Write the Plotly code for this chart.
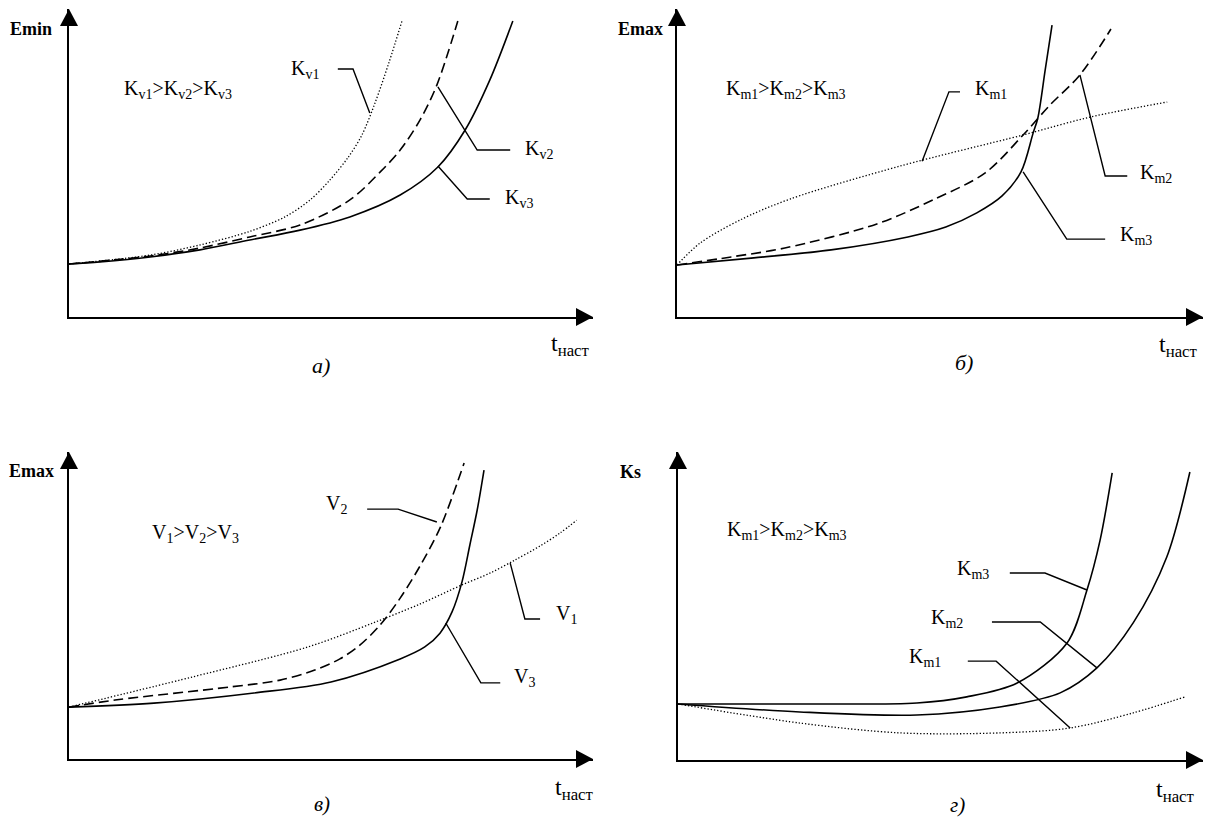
import plotly.graph_objects as go

# ---------------- data (schematic units: t and E/Ks from 0 to 10) ----------------
# Panel a) Emin(t)
a_kv1_t = [0, 1.55, 2.50, 3.45, 4.12, 4.60, 4.98, 5.33, 5.59, 5.84, 6.11, 6.36]
a_kv1_e = [1.72, 2.01, 2.34, 2.78, 3.25, 3.80, 4.45, 5.19, 5.91, 6.95, 8.28, 9.64]
a_kv2_t = [0, 1.55, 2.50, 3.45, 4.41, 5.36, 5.94, 6.32, 6.70, 7.02, 7.42]
a_kv2_e = [1.72, 1.98, 2.24, 2.60, 2.99, 3.80, 4.71, 5.42, 6.40, 7.53, 9.61]
a_kv3_t = [0, 0.59, 1.55, 2.50, 3.45, 4.41, 5.36, 6.32, 7.04, 7.56, 8.03, 8.47]
a_kv3_e = [1.72, 1.79, 1.95, 2.18, 2.50, 2.82, 3.25, 3.96, 4.87, 6.07, 7.69, 9.61]

# Panel б) Emax(t), Km
b_km1_t = [0, 0.44, 1.20, 2.15, 4.24, 6.58, 7.85, 9.32]
b_km1_e = [1.69, 2.40, 3.15, 3.83, 4.90, 5.91, 6.49, 6.98]
b_km2_t = [0, 1.03, 2.05, 3.80, 4.90, 5.86, 6.58, 7.09, 7.66, 8.25]
b_km2_e = [1.69, 1.95, 2.24, 3.02, 3.83, 4.68, 5.91, 6.88, 7.86, 9.35]
b_km3_t = [0, 1.46, 2.93, 4.39, 5.11, 5.70, 6.18, 6.54, 6.77, 6.86, 7.00, 7.13]
b_km3_e = [1.69, 1.92, 2.18, 2.60, 2.92, 3.38, 3.93, 4.71, 5.97, 6.46, 8.02, 9.48]

# Panel в) Emax(t), V
c_v1_t = [0, 2.35, 4.56, 5.80, 6.70, 7.50, 8.04, 8.51, 8.99, 9.37, 9.69]
c_v1_e = [1.69, 2.67, 3.65, 4.43, 5.05, 5.67, 6.06, 6.48, 6.94, 7.36, 7.78]
c_v2_t = [0, 0.88, 3.09, 4.03, 4.69, 5.17, 5.55, 5.94, 6.32, 6.70, 7.09, 7.54]
c_v2_e = [1.69, 1.92, 2.35, 2.57, 2.90, 3.26, 3.71, 4.37, 5.24, 6.29, 7.56, 9.64]
c_v3_t = [0, 1.62, 3.53, 5.00, 6.32, 6.79, 7.08, 7.31, 7.50, 7.65, 7.79, 7.92]
c_v3_e = [1.69, 1.82, 2.15, 2.51, 3.26, 3.65, 4.10, 4.79, 5.77, 6.97, 8.11, 9.41]

# Panel г) Ks(t), Km
d_km1_t = [0, 2.32, 4.23, 6.13, 7.47, 8.67, 9.66]
d_km1_k = [1.82, 1.20, 0.88, 0.88, 1.04, 1.53, 2.05]
d_km2_t = [0, 2.32, 4.55, 6.13, 7.28, 7.98, 8.67, 9.31, 9.75]
d_km2_k = [1.82, 1.56, 1.46, 1.72, 2.18, 2.99, 4.45, 6.59, 9.35]
d_km3_t = [0, 2.32, 4.55, 5.50, 6.46, 7.41, 7.79, 8.04, 8.27]
d_km3_k = [1.82, 1.82, 1.85, 2.05, 2.50, 3.80, 5.52, 7.14, 9.32]

# leader lines (label callouts), same schematic units
a_lead_kv1 = ([5.13, 5.42, 5.74], [8.05, 8.05, 6.62])
a_lead_kv2 = ([7.04, 7.79, 8.42], [7.47, 5.42, 5.42])
a_lead_kv3 = ([7.04, 7.60, 8.03], [4.90, 3.83, 3.83])
b_lead_km1 = ([5.38, 5.17, 4.66], [7.31, 7.31, 5.06])
b_lead_km2 = ([7.66, 8.14, 8.56], [7.86, 4.58, 4.58])
b_lead_km3 = ([6.58, 7.41, 8.14], [4.71, 2.53, 2.53])
c_lead_v2 = ([5.69, 6.28, 7.02], [8.14, 8.14, 7.72])
c_lead_v1 = ([8.42, 8.70, 8.99], [6.38, 4.56, 4.56])
c_lead_v3 = ([7.19, 7.86, 8.23], [4.43, 2.48, 2.48])
d_lead_km3 = ([6.32, 6.99, 7.79], [6.07, 6.07, 5.52])
d_lead_km2 = ([5.98, 6.90, 7.98], [4.48, 4.48, 2.99])
d_lead_km1 = ([5.52, 6.06, 7.47], [3.21, 3.21, 1.04])

# ---------------- layout geometry (pixels) ----------------
W, H = 1208, 819
panels = {
    "1": dict(x=(69, 593), y=(9, 317)),
    "2": dict(x=(677, 1203), y=(9, 317)),
    "3": dict(x=(69, 593), y=(452, 759)),
    "4": dict(x=(678, 1203), y=(452, 760)),
}

FONT = "'Liberation Serif', 'Times New Roman', Times, 'DejaVu Serif', serif"
SOLID = dict(color="black", width=1.6, shape="spline", smoothing=0.9)
DASH = dict(color="black", width=1.6, shape="spline", smoothing=0.9, dash="10px,5px")
DOT = dict(color="black", width=1.3, shape="spline", smoothing=0.9, dash="1.3px,2px")
LEAD = dict(color="black", width=1.4)

fig = go.Figure()


def ax(k):
    return ("x" if k == "1" else "x" + k), ("y" if k == "1" else "y" + k)


def add_curve(k, xs, ys, line):
    xa, ya = ax(k)
    fig.add_trace(go.Scatter(x=xs, y=ys, xaxis=xa, yaxis=ya, mode="lines",
                             line=line, hoverinfo="skip", showlegend=False))


for k, xs, ys, ln in [
    ("1", a_kv1_t, a_kv1_e, DOT), ("1", a_kv2_t, a_kv2_e, DASH), ("1", a_kv3_t, a_kv3_e, SOLID),
    ("2", b_km1_t, b_km1_e, DOT), ("2", b_km2_t, b_km2_e, DASH), ("2", b_km3_t, b_km3_e, SOLID),
    ("3", c_v1_t, c_v1_e, DOT), ("3", c_v2_t, c_v2_e, DASH), ("3", c_v3_t, c_v3_e, SOLID),
    ("4", d_km1_t, d_km1_k, DOT), ("4", d_km2_t, d_km2_k, SOLID), ("4", d_km3_t, d_km3_k, SOLID),
]:
    add_curve(k, xs, ys, ln)

for k, lead in [
    ("1", a_lead_kv1), ("1", a_lead_kv2), ("1", a_lead_kv3),
    ("2", b_lead_km1), ("2", b_lead_km2), ("2", b_lead_km3),
    ("3", c_lead_v1), ("3", c_lead_v2), ("3", c_lead_v3),
    ("4", d_lead_km1), ("4", d_lead_km2), ("4", d_lead_km3),
]:
    add_curve(k, lead[0], lead[1], LEAD)

layout = dict(width=W, height=H, margin=dict(l=0, r=0, t=0, b=0),
              paper_bgcolor="white", plot_bgcolor="white", showlegend=False,
              hovermode=False, font=dict(family=FONT, color="black"))
shapes = []
for k, g in panels.items():
    xa, ya = ax(k)
    x0, x1 = g["x"]
    y0, y1 = g["y"]
    xname = "xaxis" if k == "1" else "xaxis" + k
    yname = "yaxis" if k == "1" else "yaxis" + k
    common = dict(range=[0, 10], showgrid=False, zeroline=False, showticklabels=False,
                  ticks="", showline=True, linecolor="black", linewidth=2, fixedrange=True)
    layout[xname] = dict(domain=[x0 / W, x1 / W], anchor=ya, **common)
    layout[yname] = dict(domain=[1 - y1 / H, 1 - y0 / H], anchor=xa, **common)

    def P(px, py):
        return f"{px / W:.5f},{1 - py / H:.5f}"
    # arrowheads
    shapes.append(dict(type="path", xref="paper", yref="paper",
                       path=f"M{P(x1, y1)} L{P(x1 - 17, y1 - 9)} L{P(x1 - 17, y1 + 9)} Z",
                       fillcolor="black", line=dict(width=0)))
    shapes.append(dict(type="path", xref="paper", yref="paper",
                       path=f"M{P(x0, y0)} L{P(x0 - 9, y0 + 17)} L{P(x0 + 9, y0 + 17)} Z",
                       fillcolor="black", line=dict(width=0)))
layout["shapes"] = shapes
fig.update_layout(**layout)


def label(k, x, y, text, size=20):
    # positions given in panel units (0..10 along each axis), placed via axis domain refs
    xa, ya = ax(k)
    fig.add_annotation(x=x / 10, y=y / 10, xref=xa + " domain", yref=ya + " domain",
                       text=text, showarrow=False,
                       font=dict(family=FONT, size=size, color="black"),
                       xanchor="center", yanchor="middle")


def K(sub):
    return f"K<sub>{sub}</sub>"


# panel a
label("1", -0.73, 9.35, "<b>Emin</b>", size=18)
label("1", 2.08, 7.38, K("v1") + "&gt;" + K("v2") + "&gt;" + K("v3"))
label("1", 4.50, 8.05, K("v1"))
label("1", 8.97, 5.45, K("v2"))
label("1", 8.59, 3.85, K("v3"))
label("1", 9.58, -0.90, "t<sub>наст</sub>", size=24)
label("1", 4.81, -1.56, "<i>а)</i>", size=22)
# panel б
label("2", -0.70, 9.35, "<b>Emax</b>", size=18)
label("2", 2.07, 7.38, K("m1") + "&gt;" + K("m2") + "&gt;" + K("m3"))
label("2", 5.97, 7.38, K("m1"))
label("2", 9.11, 4.65, K("m2"))
label("2", 8.73, 2.66, K("m3"))
label("2", 9.54, -0.95, "t<sub>наст</sub>", size=24)
label("2", 5.46, -1.49, "<i>б)</i>", size=22)
# panel в
label("3", -0.71, 9.38, "<b>Emax</b>", size=18)
label("3", 2.42, 7.33, "V<sub>1</sub>&gt;V<sub>2</sub>&gt;V<sub>3</sub>")
label("3", 5.10, 8.28, "V<sub>2</sub>")
label("3", 9.50, 4.72, "V<sub>1</sub>")
label("3", 8.70, 2.67, "V<sub>3</sub>")
label("3", 9.64, -0.98, "t<sub>наст</sub>", size=24)
label("3", 4.83, -1.45, "<i>в)</i>", size=21)
# panel г
label("4", -0.91, 9.35, "<b>Ks</b>", size=18)
label("4", 2.08, 7.44, K("m1") + "&gt;" + K("m2") + "&gt;" + K("m3"))
label("4", 5.62, 6.20, K("m3"))
label("4", 5.12, 4.61, K("m2"))
label("4", 4.70, 3.34, K("m1"))
label("4", 9.47, -1.00, "t<sub>наст</sub>", size=24)
label("4", 5.33, -1.45, "<i>г)</i>", size=21)

fig.write_html("out.html", config={"displayModeBar": False, "staticPlot": True},
               post_script="document.body.style.margin='0px';document.body.style.padding='0px';")
